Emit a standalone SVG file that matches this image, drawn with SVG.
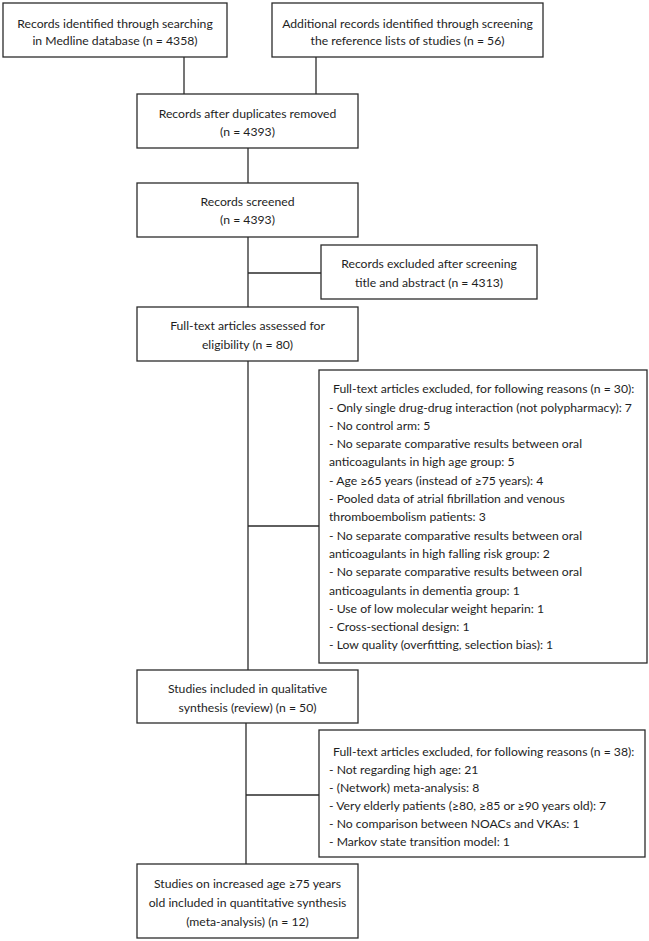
<svg xmlns="http://www.w3.org/2000/svg" width="649" height="941" viewBox="0 0 649 941">
<style>
.box{fill:#ffffff;stroke:#2b2b2b;stroke-width:1.3}
.t{font-family:Lato,"Liberation Sans",sans-serif;font-size:12.2px;fill:#1e1e1e}
.c{text-anchor:middle}
.ln{fill:none;stroke:#2b2b2b;stroke-width:1.3}
</style>
<rect width="649" height="941" fill="#ffffff"/>
<g id="connectors">
<path class="ln" d="M184 57V94"/>
<path class="ln" d="M316 57V94"/>
<path class="ln" d="M248 148V183"/>
<path class="ln" d="M248 237V307M248 273H321"/>
<path class="ln" d="M248 361V670M248 526H319"/>
<path class="ln" d="M246 723V864M246 795H319"/>
</g>
<g id="n1"><rect class="box" x="3" y="3" width="224" height="54"/>
<text class="t c" x="115" y="27.5">Records identified through searching</text>
<text class="t c" x="115" y="45">in Medline database (n = 4358)</text></g>
<g id="n2"><rect class="box" x="272" y="3" width="271" height="54"/>
<text class="t c" x="407.5" y="27.5">Additional records identified through screening</text>
<text class="t c" x="407.5" y="45">the reference lists of studies (n = 56)</text></g>
<g id="n3"><rect class="box" x="137" y="94" width="221" height="54"/>
<text class="t c" x="247.5" y="117.5">Records after duplicates removed</text>
<text class="t c" x="247.5" y="136">(n = 4393)</text></g>
<g id="n4"><rect class="box" x="137" y="183" width="221" height="54"/>
<text class="t c" x="247.5" y="206">Records screened</text>
<text class="t c" x="247.5" y="224">(n = 4393)</text></g>
<g id="n5"><rect class="box" x="321" y="245" width="216" height="54"/>
<text class="t c" x="429" y="268">Records excluded after screening</text>
<text class="t c" x="429" y="286.5">title and abstract (n = 4313)</text></g>
<g id="n6"><rect class="box" x="137" y="307" width="221" height="54"/>
<text class="t c" x="247.5" y="330">Full-text articles assessed for</text>
<text class="t c" x="247.5" y="349">eligibility (n = 80)</text></g>
<g id="n7"><rect class="box" x="319" y="370" width="328" height="293"/>
<text class="t" x="333" y="393">Full-text articles excluded, for following reasons (n = 30):</text>
<text class="t" x="329" y="411.5">- Only single drug-drug interaction (not polypharmacy): 7</text>
<text class="t" x="329" y="429.8">- No control arm: 5</text>
<text class="t" x="329" y="448.1">- No separate comparative results between oral</text>
<text class="t" x="329" y="466.4">anticoagulants in high age group: 5</text>
<text class="t" x="329" y="484.7">- Age ≥65 years (instead of ≥75 years): 4</text>
<text class="t" x="329" y="503">- Pooled data of atrial fibrillation and venous</text>
<text class="t" x="329" y="521.3">thromboembolism patients: 3</text>
<text class="t" x="329" y="539.6">- No separate comparative results between oral</text>
<text class="t" x="329" y="557.9">anticoagulants in high falling risk group: 2</text>
<text class="t" x="329" y="576.2">- No separate comparative results between oral</text>
<text class="t" x="329" y="594.5">anticoagulants in dementia group: 1</text>
<text class="t" x="329" y="612.8">- Use of low molecular weight heparin: 1</text>
<text class="t" x="329" y="631.1">- Cross-sectional design: 1</text>
<text class="t" x="329" y="649.4">- Low quality (overfitting, selection bias): 1</text></g>
<g id="n8"><rect class="box" x="137" y="670" width="221" height="53"/>
<text class="t c" x="247.5" y="693">Studies included in qualitative</text>
<text class="t c" x="247.5" y="712">synthesis (review) (n = 50)</text></g>
<g id="n9"><rect class="box" x="319" y="730" width="326" height="127"/>
<text class="t" x="333" y="755.5">Full-text articles excluded, for following reasons (n = 38):</text>
<text class="t" x="329" y="773.5">- Not regarding high age: 21</text>
<text class="t" x="329" y="791.5">- (Network) meta-analysis: 8</text>
<text class="t" x="329" y="809.8">- Very elderly patients (≥80, ≥85 or ≥90 years old): 7</text>
<text class="t" x="329" y="828">- No comparison between NOACs and VKAs: 1</text>
<text class="t" x="329" y="846.3">- Markov state transition model: 1</text></g>
<g id="n10"><rect class="box" x="137" y="864" width="221" height="74"/>
<text class="t c" x="247.5" y="887.5">Studies on increased age ≥75 years</text>
<text class="t c" x="247.5" y="907">old included in quantitative synthesis</text>
<text class="t c" x="247.5" y="925.5">(meta-analysis) (n = 12)</text></g>
</svg>
